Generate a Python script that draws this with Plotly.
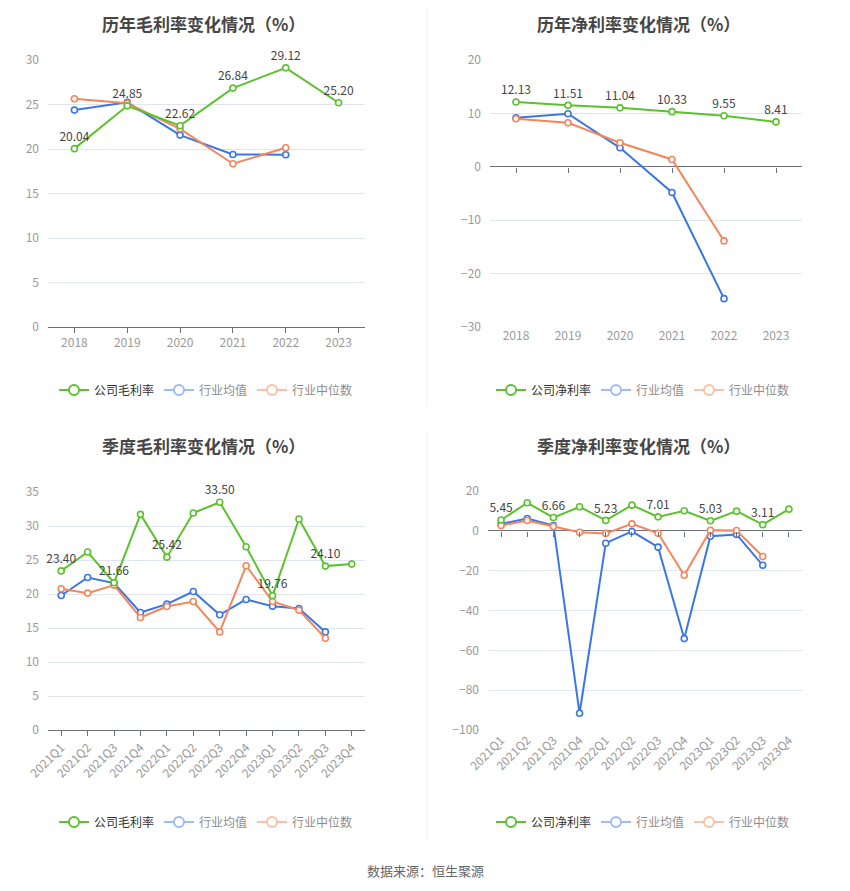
import plotly.graph_objects as go

# ---- data ----
years = ["2018", "2019", "2020", "2021", "2022", "2023"]
quarters = ["2021Q1", "2021Q2", "2021Q3", "2021Q4", "2022Q1", "2022Q2",
            "2022Q3", "2022Q4", "2023Q1", "2023Q2", "2023Q3", "2023Q4"]

gross_company = [20.04, 24.85, 22.62, 26.84, 29.12, 25.20]
gross_mean = [24.37, 25.24, 21.56, 19.39, 19.35]
gross_median = [25.65, 25.13, 22.27, 18.34, 20.14]

net_company = [12.13, 11.51, 11.04, 10.33, 9.55, 8.41]
net_mean = [9.19, 9.94, 3.56, -4.81, -24.69]
net_median = [9.00, 8.25, 4.50, 1.38, -13.88]

q_gross_company = [23.40, 26.17, 21.66, 31.71, 25.42, 31.91,
                   33.50, 26.95, 19.76, 31.03, 24.10, 24.40]
q_gross_mean = [19.78, 22.43, 21.60, 17.28, 18.51, 20.37,
                16.94, 19.20, 18.21, 17.87, 14.43]
q_gross_median = [20.77, 20.13, 21.30, 16.54, 18.16, 18.90,
                  14.43, 24.15, 18.90, 17.62, 13.50]

q_net_company = [5.45, 14.07, 6.66, 12.06, 5.23, 12.90,
                 7.01, 10.05, 5.03, 9.88, 3.11, 10.89]
q_net_mean = [3.5, 6.2, 2.7, -91.6, -6.2, -0.3,
              -8.2, -54.1, -2.7, -1.8, -17.3]
q_net_median = [2.7, 5.2, 2.2, -0.7, -1.3, 3.5,
                -1.2, -22.3, 0.3, 0.2, -12.9]

titles = ["历年毛利率变化情况（%）", "历年净利率变化情况（%）",
          "季度毛利率变化情况（%）", "季度净利率变化情况（%）"]
company_names = ["公司毛利率", "公司净利率", "公司毛利率", "公司净利率"]

GREEN = "#5BC22D"
BLUE = "#3A76E8"
ORANGE = "#F5855B"
GREEN_L = "#5BC22D"
BLUE_L = "#9DBBF4"
ORANGE_L = "#F9C0AB"
FONT = "Noto Sans CJK SC, Noto Sans, sans-serif"

W, H = 850, 891
OFF = 8  # the page body margin shifts the figure by this much


def px(x):
    return (x - OFF) / W


def py(y):
    return 1 - (y - OFF) / H


# plot areas (screen pixels): x0, x1, ytop, ybottom
areas = [
    (48, 365, 60, 327),
    (490, 802, 60, 327),
    (48, 365, 492, 730),
    (488, 802, 491, 730),
]
ranges = [(0, 30, 5), (-30, 20, 10), (0, 35, 5), (-100, 20, 20)]
panels = [
    (years, gross_company, gross_mean, gross_median, 1),
    (years, net_company, net_mean, net_median, 1),
    (quarters, q_gross_company, q_gross_mean, q_gross_median, 2),
    (quarters, q_net_company, q_net_mean, q_net_median, 2),
]

fig = go.Figure()
layout = {}
legend_pos = [(206, 390), (643, 390), (206, 822), (643, 822)]

for i, (cats, comp, mean, med, step) in enumerate(panels):
    n = i + 1
    xa = "x" if n == 1 else f"x{n}"
    ya = "y" if n == 1 else f"y{n}"
    lg = "legend" if n == 1 else f"legend{n}"
    labels = [f"{v:.2f}" if k % step == 0 else "" for k, v in enumerate(comp)]

    for vals, col in [(mean, BLUE), (med, ORANGE)]:
        fig.add_trace(go.Scatter(
            x=cats[:len(vals)], y=vals, mode="lines+markers", xaxis=xa, yaxis=ya,
            line=dict(color=col, width=2),
            marker=dict(size=6, color="white", line=dict(color=col, width=1.6)),
            showlegend=False, hoverinfo="skip"))
    fig.add_trace(go.Scatter(
        x=cats, y=comp, mode="lines+markers+text", xaxis=xa, yaxis=ya,
        text=labels, textposition="top center", cliponaxis=False,
        textfont=dict(size=12, color="#444", family=FONT),
        line=dict(color=GREEN, width=2),
        marker=dict(size=6, color="white", line=dict(color=GREEN, width=1.6)),
        showlegend=False, hoverinfo="skip"))

    # legend-only entries
    for name, col in [(company_names[i], GREEN_L),
                      ('<span style="color:#8c8c8c">行业均值</span>', BLUE_L),
                      ('<span style="color:#8c8c8c">行业中位数</span>', ORANGE_L)]:
        fig.add_trace(go.Scatter(
            x=[None], y=[None], mode="lines+markers", name=name, xaxis=xa, yaxis=ya,
            line=dict(color=col, width=2),
            marker=dict(size=10, color="white", line=dict(color=col, width=2)),
            legend=lg))

    x0, x1, yt, yb = areas[i]
    lo, hi, dt = ranges[i]
    dom_y = [py(yb), py(yt)]
    zero_axis = lo < 0
    layout[f"xaxis{'' if n == 1 else n}"] = dict(
        domain=[px(x0), px(x1)], anchor=ya, type="category",
        categoryarray=cats, categoryorder="array",
        range=[-0.5, len(cats) - 0.5], automargin=False,
        showline=not zero_axis, linecolor="#6E7079", linewidth=1,
        ticks="" if zero_axis else "outside", ticklen=5, tickcolor="#6E7079",
        tickangle=-45 if step == 2 else 0,
        tickfont=dict(size=12, color="#9a9a9a", family=FONT),
        showgrid=False, zeroline=False, fixedrange=True)
    layout[f"yaxis{'' if n == 1 else n}"] = dict(
        domain=dom_y, anchor=xa, range=[lo, hi], dtick=dt, tick0=0,
        showline=False, ticks="", gridcolor="#E0E6F1", gridwidth=1,
        zeroline=zero_axis, zerolinecolor="#6E7079", zerolinewidth=1,
        tickfont=dict(size=12, color="#9a9a9a", family=FONT), automargin=False,
        ticklabelstandoff=8, fixedrange=True)

    if zero_axis:
        # tick marks hanging from the zero line
        oa = n + 4
        zpos = dom_y[0] + (0 - lo) / (hi - lo) * (dom_y[1] - dom_y[0])
        layout[f"xaxis{oa}"] = dict(
            domain=[px(x0), px(x1)], overlaying=xa, anchor="free", position=zpos,
            type="category", categoryarray=cats, categoryorder="array",
            range=[-0.5, len(cats) - 0.5], showline=False, automargin=False,
            ticks="outside", ticklen=5, tickcolor="#6E7079",
            showticklabels=False, showgrid=False, zeroline=False)
        fig.add_trace(go.Scatter(x=cats, y=[None] * len(cats), xaxis=f"x{oa}",
                                 yaxis=ya, showlegend=False, hoverinfo="skip"))

    lx, ly = legend_pos[i]
    layout[lg] = dict(
        orientation="h", x=px(lx), y=py(ly), xanchor="center", yanchor="middle",
        font=dict(size=12, color="#333", family=FONT), itemwidth=30,
        bgcolor="rgba(0,0,0,0)", traceorder="normal", itemclick=False)

annotations = []
# titles: top edge kept at the paper top so nothing is clipped
title_pos = [(203, 9, "top"), (638, 9, "top"), (203, 445, "middle"), (638, 445, "middle")]
for t, (tx, ty, anc) in zip(titles, title_pos):
    annotations.append(dict(
        text=f"<b>{t}</b>", x=px(tx), y=py(ty), xref="paper", yref="paper",
        showarrow=False, xanchor="center", yanchor=anc,
        font=dict(size=17, color="#464646", family=FONT)))
annotations.append(dict(
    text="数据来源：恒生聚源", x=px(425), y=py(870), xref="paper", yref="paper",
    showarrow=False, xanchor="center", yanchor="middle",
    font=dict(size=13, color="#666", family=FONT)))

shapes = [
    dict(type="line", xref="paper", yref="paper", x0=px(427), x1=px(427),
         y0=py(8), y1=py(406), line=dict(color="#F0F0F0", width=1)),
    dict(type="line", xref="paper", yref="paper", x0=px(427), x1=px(427),
         y0=py(431), y1=py(840), line=dict(color="#F0F0F0", width=1)),
]

fig.update_layout(
    width=W, height=H,
    margin=dict(l=0, r=0, t=0, b=0, pad=0, autoexpand=False),
    paper_bgcolor="white", plot_bgcolor="white",
    font=dict(family=FONT), annotations=annotations, shapes=shapes,
    **layout)

fig.write_html("out.html")
